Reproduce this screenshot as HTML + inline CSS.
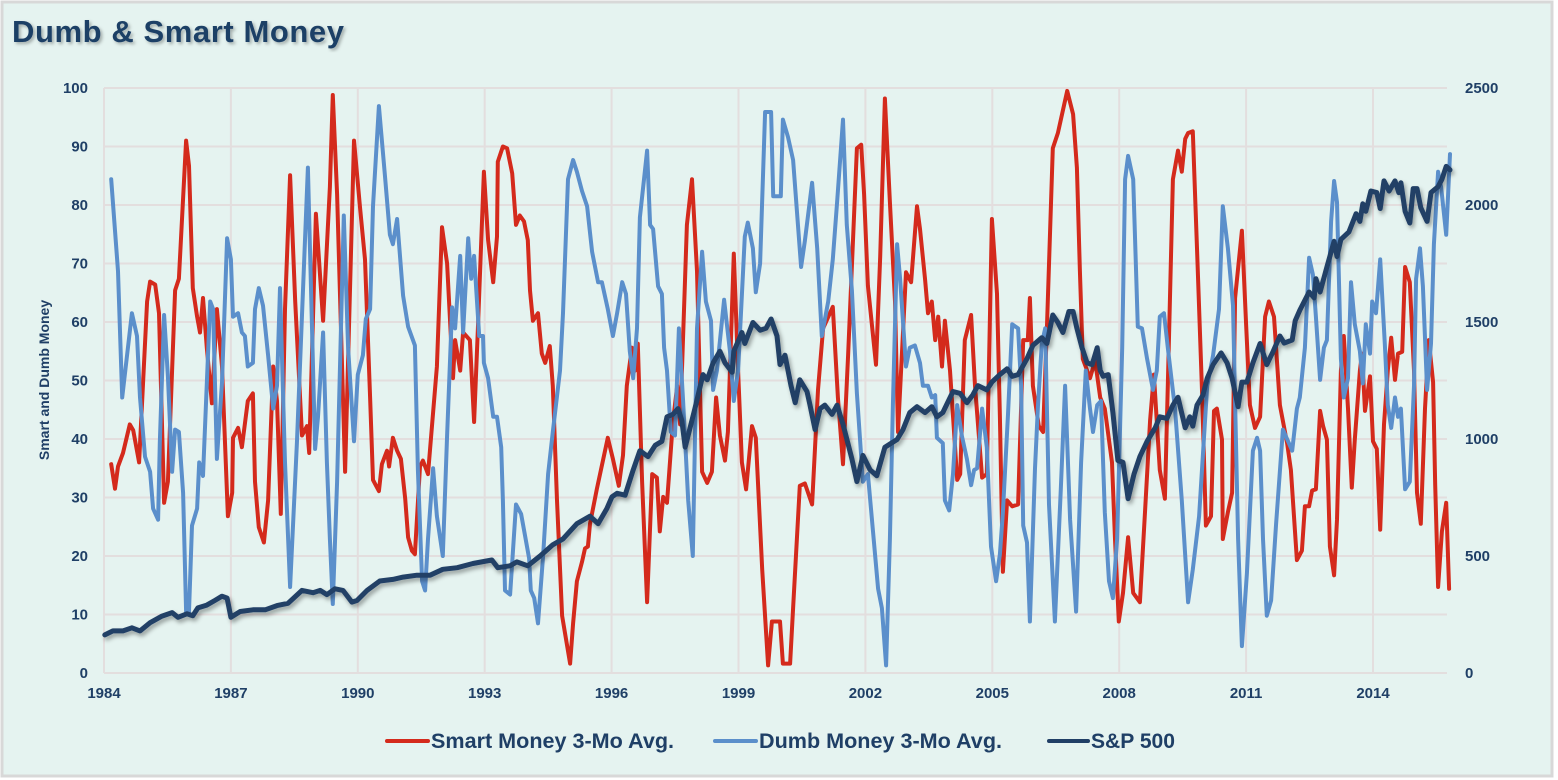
<!DOCTYPE html>
<html><head><meta charset="utf-8">
<style>
html,body{margin:0;padding:0;background:#fff;}
svg{display:block;}
text{font-family:"Liberation Sans",sans-serif;}
</style></head>
<body>
<svg id="chart" width="1558" height="780" viewBox="0 0 1558 780" xmlns="http://www.w3.org/2000/svg">
<defs>
<filter id="shadow" x="-5%" y="-5%" width="110%" height="120%">
<feDropShadow dx="2" dy="3" stdDeviation="2" flood-color="#000" flood-opacity="0.35"/>
</filter>
<filter id="tshadow"><feDropShadow dx="2" dy="2" stdDeviation="1.5" flood-color="#000" flood-opacity="0.3"/></filter>
</defs>
<rect x="2" y="2" width="1550" height="774" fill="#e5f3f0" stroke="#d8d8d8" stroke-width="3"/>
<text x="12" y="42" font-size="31" font-weight="bold" fill="#1f3f66" filter="url(#tshadow)" textLength="332">Dumb &amp; Smart Money</text>
<g id="grid"></g>
<g id="axes"></g>
<g id="series"></g>
<text transform="translate(49,380) rotate(-90)" text-anchor="middle" font-size="14" font-weight="bold" fill="#1f3f66">Smart and Dumb Money</text>
<g>
<g>
<line x1="387" y1="741" x2="428" y2="741" stroke="#d42a1c" stroke-width="4" stroke-linecap="round"/>
<text x="431" y="748" font-size="21" font-weight="bold" fill="#1f3f66" textLength="243" lengthAdjust="spacingAndGlyphs">Smart Money 3-Mo Avg.</text></g>
<g>
<line x1="715" y1="741" x2="756" y2="741" stroke="#5b8fcb" stroke-width="4" stroke-linecap="round"/>
<text x="759" y="748" font-size="21" font-weight="bold" fill="#1f3f66" textLength="243" lengthAdjust="spacingAndGlyphs">Dumb Money 3-Mo Avg.</text></g>
<g>
<line x1="1049" y1="741" x2="1088" y2="741" stroke="#203f66" stroke-width="4" stroke-linecap="round"/>
<text x="1091" y="748" font-size="21" font-weight="bold" fill="#1f3f66" textLength="84" lengthAdjust="spacingAndGlyphs">S&amp;P 500</text></g>
</g>
</svg>
<script>
// years since Jan 1984
const smartT=[0.17,0.26,0.33,0.45,0.61,0.69,0.83,1.02,1.09,1.21,1.30,1.42,1.51,1.68,1.77,1.94,2.01,2.10,2.20,2.27,2.34,2.43,2.55,2.67,2.79,2.93,3.03,3.05,3.17,3.26,3.40,3.52,3.57,3.66,3.78,3.88,4.00,4.09,4.18,4.28,4.40,4.52,4.68,4.80,4.85,5.01,5.18,5.34,5.41,5.51,5.70,5.91,6.05,6.17,6.29,6.36,6.50,6.57,6.69,6.74,6.83,6.93,7.02,7.12,7.19,7.28,7.35,7.47,7.54,7.66,7.87,7.99,8.11,8.25,8.30,8.42,8.49,8.65,8.75,8.84,8.98,9.08,9.20,9.29,9.31,9.43,9.53,9.65,9.74,9.83,9.93,10.02,10.07,10.14,10.26,10.35,10.43,10.54,10.61,10.71,10.83,11.02,11.09,11.18,11.30,11.37,11.44,11.49,11.65,11.91,12.03,12.17,12.27,12.36,12.48,12.55,12.62,12.72,12.84,12.96,13.07,13.14,13.22,13.31,13.45,13.55,13.62,13.78,13.90,14.02,14.14,14.26,14.37,14.47,14.56,14.68,14.75,14.89,14.99,15.08,15.18,15.32,15.41,15.56,15.70,15.79,15.98,16.05,16.22,16.29,16.45,16.57,16.74,16.88,17.00,17.23,17.35,17.47,17.59,17.80,17.90,17.97,18.06,18.25,18.35,18.46,18.58,18.70,18.77,18.96,19.08,19.22,19.29,19.41,19.48,19.57,19.65,19.72,19.81,19.88,20.00,20.17,20.24,20.35,20.50,20.59,20.76,20.87,20.99,21.11,21.18,21.25,21.35,21.47,21.61,21.73,21.84,21.89,21.96,22.10,22.20,22.29,22.43,22.55,22.77,22.91,23.00,23.07,23.14,23.31,23.43,23.55,23.66,23.83,23.90,23.99,24.09,24.21,24.33,24.49,24.61,24.73,24.82,24.96,25.08,25.15,25.27,25.39,25.48,25.56,25.63,25.74,25.84,25.96,26.05,26.17,26.24,26.31,26.43,26.45,26.57,26.67,26.74,26.90,27.00,27.09,27.21,27.33,27.45,27.54,27.66,27.80,27.97,28.06,28.20,28.32,28.39,28.49,28.56,28.65,28.75,28.82,28.91,28.98,29.08,29.15,29.24,29.31,29.41,29.50,29.57,29.69,29.74,29.81,29.93,30.00,30.09,30.17,30.26,30.35,30.43,30.52,30.59,30.69,30.76,30.87,30.97,31.04,31.13,31.23,31.32,31.42,31.47,31.54,31.63,31.73,31.80];
const smartV=[35.7,31.5,35.3,37.6,42.5,41.5,36,63.5,66.9,66.4,61.5,29.1,32.7,65.4,67.4,91,86.7,65.8,60.9,58.2,64.1,55.6,46.1,62.2,52.4,26.8,30.8,40.2,41.9,38.6,46.5,47.8,32.7,24.9,22.3,29.5,52.4,46.5,27.2,62.2,85.1,63.5,40.6,42.2,37.6,78.5,60.2,83.1,98.8,81.8,34.4,91,79.8,70.7,47.1,33,31.1,35.7,38,35.3,40.2,38,36.6,29.8,23.2,20.9,20.3,35.3,36.3,34,52.4,76.2,70,50.4,56.9,51.7,58.2,56.9,42.9,58.9,85.7,74,66.8,74.6,87.4,90,89.7,85.4,76.6,78.2,77.2,74,65.4,60.2,61.5,54.6,53,55.9,49.1,29.5,9.8,1.6,8.5,15.7,19,21.3,21.6,25.5,31.4,40.2,36.6,32,37.2,49.1,55.6,51.7,56.3,32.7,12.1,34,33.4,24.2,30.1,29.1,42.9,49.1,42.5,76.6,84.4,68.7,34.4,32.5,34.4,47.1,40.6,36.3,41.2,71.7,51.7,36,31.4,42.2,40.2,17.7,1.3,8.8,8.8,1.6,1.6,11.1,32,32.4,28.8,48.4,58.9,62.6,47.1,35.7,54.3,89.7,90.3,81.8,66.2,52.7,71.2,98.2,80.5,63.5,41.2,68.5,66.8,79.8,75.9,67.4,61.5,63.5,56.9,60.9,52.4,60.2,51.7,33,34,56.9,61.2,49.1,33.4,34,77.6,64.8,43.8,17.3,29.5,28.5,28.8,56.9,56.9,64.1,49.1,42.2,41.2,58.9,89.7,92.3,99.5,95.5,86.4,68.7,53.7,50.4,53.4,47.1,45.2,36,22.9,8.8,13.7,23.2,13.7,12.1,27.5,43.2,51,34.7,29.8,49.1,84.4,89.3,85.7,91.3,92.3,92.6,72.6,47.8,25.2,26.8,44.8,45.2,39.9,22.9,27.5,30.8,64.1,75.6,59.6,45.8,41.9,43.8,60.9,63.5,60.9,45.8,39.3,34.7,19.3,20.9,28.5,28.5,31.2,31.4,44.8,42.2,39.9,21.6,16.7,26.2,51.7,57.6,45.2,31.7,39.9,51.7,54.6,44.8,50.7,39.6,38.3,24.5,42.5,51.7,57.3,50.1,54.6,54.9,69.4,66.8,51.7,30.8,25.5,45.2,56.9,49.7,32.1,14.7,24.2,29.1,14.4];
const dumbT=[0.17,0.33,0.43,0.66,0.78,0.85,0.97,1.09,1.16,1.28,1.32,1.42,1.51,1.61,1.68,1.77,1.87,1.94,2.01,2.08,2.20,2.25,2.34,2.51,2.58,2.67,2.79,2.91,3.00,3.05,3.17,3.26,3.33,3.40,3.52,3.57,3.66,3.76,3.88,4.00,4.09,4.16,4.28,4.40,4.56,4.68,4.82,4.99,5.06,5.18,5.27,5.34,5.41,5.51,5.67,5.77,5.91,6.00,6.12,6.19,6.29,6.36,6.50,6.64,6.76,6.83,6.93,7.07,7.19,7.35,7.42,7.52,7.59,7.66,7.78,7.87,8.01,8.11,8.23,8.30,8.42,8.49,8.61,8.68,8.75,8.87,8.96,8.98,9.08,9.20,9.29,9.39,9.43,9.48,9.60,9.74,9.86,9.95,10.05,10.09,10.17,10.26,10.38,10.50,10.61,10.78,10.85,10.97,11.09,11.18,11.30,11.42,11.54,11.68,11.77,11.91,12.03,12.13,12.25,12.34,12.43,12.51,12.60,12.67,12.84,12.91,12.98,13.10,13.19,13.24,13.31,13.40,13.50,13.59,13.69,13.81,13.92,14.02,14.14,14.23,14.35,14.40,14.49,14.66,14.80,14.89,14.99,15.15,15.22,15.34,15.41,15.51,15.63,15.77,15.82,16.00,16.05,16.17,16.29,16.48,16.57,16.74,16.86,16.97,17.12,17.23,17.33,17.47,17.56,17.68,17.80,17.94,18.06,18.18,18.30,18.39,18.49,18.58,18.65,18.75,18.82,18.96,19.05,19.17,19.29,19.36,19.48,19.57,19.65,19.69,19.83,19.88,19.98,20.07,20.17,20.28,20.40,20.50,20.57,20.64,20.76,20.87,20.97,21.09,21.18,21.25,21.37,21.47,21.61,21.68,21.73,21.82,21.89,22.01,22.08,22.17,22.25,22.34,22.48,22.62,22.72,22.84,22.98,23.10,23.21,23.31,23.38,23.48,23.57,23.66,23.76,23.85,23.95,24.07,24.14,24.21,24.33,24.44,24.54,24.66,24.80,24.89,24.96,25.06,25.15,25.32,25.48,25.63,25.74,25.89,26.08,26.22,26.36,26.45,26.57,26.69,26.81,26.90,27.02,27.16,27.26,27.33,27.40,27.49,27.59,27.71,27.87,28.09,28.20,28.27,28.39,28.49,28.58,28.65,28.75,28.84,28.91,29.01,29.08,29.15,29.24,29.31,29.41,29.48,29.57,29.69,29.76,29.83,29.93,29.98,30.07,30.17,30.28,30.35,30.43,30.52,30.59,30.66,30.76,30.87,30.97,31.02,31.11,31.18,31.28,31.37,31.44,31.54,31.61,31.73,31.82];
const dumbV=[84.4,68.7,47.1,61.5,57.6,47.1,37,34.4,28.1,26.2,39.3,61.2,50.7,34.4,41.6,41.2,30.8,10.5,10.5,25.2,28.1,36,33.7,63.5,62.2,36.6,49.7,74.3,70.7,60.9,61.5,58.2,57.6,52.4,53,62.2,65.8,62.8,54.3,45.2,49.1,65.8,36,14.7,39.3,61.2,86.4,38.3,43.8,58.2,36,22.9,11.8,32.7,78.2,55.6,39.6,51,54.3,60.5,62.2,79.8,96.9,85.1,74.9,73.3,77.6,64.5,59.2,56,34.7,15.7,14.1,22.9,35,26.8,20,40.6,62.5,58.9,71.3,58.2,74.3,67.4,71.3,57.6,57.6,53,50.4,43.8,43.8,38.6,29.5,14.1,13.4,28.8,27.2,23.6,19.6,14.1,12.8,8.5,20,34,41.2,51.7,61.5,84.4,87.7,85.7,82.4,79.8,72,66.8,66.8,62.2,57.6,61.5,66.8,64.8,55,50.4,58.9,77.9,89.3,76.6,75.9,66.1,64.8,55.6,51.7,41.2,40.6,58.9,46.5,29.5,20,58.9,72,63.5,60.2,48.4,51.7,63.8,54.9,46.5,51.7,74.6,77,72.6,65.1,70,95.9,95.9,81.5,81.5,94.6,91.6,87.7,69.4,73.9,83.8,72.6,57.6,63.5,70.7,80.5,94.6,76.6,65.4,47.8,32.7,34,24.2,14.4,11.1,1.3,22.9,45.8,73.3,67.4,52.4,55.6,56,53,49.1,49.1,47.1,47.5,40.2,39.3,29.5,27.8,34,45.8,40.6,36.6,32.1,34.7,35,45.2,38.6,21.6,15.7,20.3,27.5,44.2,59.6,58.9,49.1,25.2,22.3,8.8,35,45.8,56.3,58.9,28.8,8.8,31.4,49.1,26.2,10.5,36,51.7,45.2,41.2,45.8,46.5,27.5,15.7,12.8,22.9,55.6,84.4,88.4,84.4,59.2,58.9,53.7,48.4,51.7,60.9,61.5,55.6,45.2,29.5,12.1,17.7,26.8,49.1,54.3,62.2,79.8,72.6,62.8,22.9,4.6,17,38,40.2,38,22.9,9.8,12.4,25.5,41.6,38,45.2,47.1,55.6,71,68.1,60.9,50.1,55.6,56.9,77.2,84.1,80.5,53.7,47.1,50.4,66.8,59.6,55,49.5,59.6,54.6,63.5,61.5,70.7,56.3,45.8,41.9,47.1,43.8,45.2,31.4,32.7,49.1,67.4,72.6,66.1,48.4,56.3,73.3,85.7,83.1,74.9,88.7];
const spxT=[0.02,0.21,0.45,0.66,0.85,1.09,1.37,1.61,1.75,1.96,2.10,2.22,2.43,2.62,2.79,2.91,3.00,3.22,3.52,3.81,4.09,4.35,4.68,4.94,5.11,5.27,5.46,5.65,5.86,5.98,6.22,6.52,6.83,7.07,7.40,7.71,8.01,8.35,8.72,9.17,9.31,9.60,9.76,10.02,10.31,10.61,10.85,11.18,11.49,11.68,11.89,12.01,12.13,12.32,12.51,12.67,12.86,13.03,13.19,13.31,13.45,13.57,13.66,13.74,13.97,14.16,14.26,14.40,14.56,14.68,14.85,14.89,15.08,15.15,15.34,15.51,15.65,15.77,15.91,15.98,16.10,16.24,16.34,16.45,16.62,16.69,16.81,16.93,17.04,17.21,17.33,17.47,17.68,17.80,17.94,18.11,18.27,18.46,18.75,18.89,19.05,19.22,19.41,19.57,19.69,19.83,20.07,20.24,20.40,20.54,20.66,20.87,20.99,21.18,21.35,21.47,21.61,21.82,21.96,22.17,22.29,22.43,22.55,22.67,22.81,22.91,23.00,23.12,23.24,23.36,23.48,23.55,23.62,23.74,23.85,23.97,24.09,24.21,24.35,24.49,24.66,24.85,24.96,25.13,25.27,25.39,25.56,25.67,25.74,25.84,25.98,26.08,26.22,26.41,26.55,26.67,26.81,26.90,27.02,27.16,27.33,27.49,27.64,27.80,27.90,28.09,28.16,28.27,28.49,28.61,28.65,28.75,28.91,29.08,29.15,29.24,29.43,29.60,29.69,29.76,29.83,29.95,30.09,30.17,30.26,30.38,30.52,30.61,30.66,30.76,30.87,30.95,31.04,31.13,31.28,31.37,31.54,31.63,31.73,31.82];
const spxV=[163,180,180,193,180,215,243,258,238,253,245,278,290,310,328,320,238,263,270,270,288,298,353,343,353,335,360,353,303,310,353,393,400,410,418,418,443,450,468,483,450,458,475,458,500,548,573,638,670,638,703,753,768,760,868,950,925,973,990,1095,1105,1130,1080,965,1130,1275,1253,1325,1375,1325,1285,1375,1455,1408,1498,1465,1473,1513,1440,1318,1358,1228,1155,1253,1203,1145,1040,1130,1145,1105,1145,1063,915,818,930,868,843,965,998,1040,1113,1138,1113,1138,1095,1113,1203,1195,1155,1188,1228,1210,1243,1275,1300,1268,1275,1343,1400,1433,1408,1530,1498,1455,1545,1545,1473,1390,1325,1318,1390,1293,1268,1275,1113,908,900,745,850,925,990,1048,1095,1088,1145,1178,1048,1095,1055,1145,1188,1260,1318,1368,1325,1260,1138,1243,1243,1325,1408,1318,1375,1440,1410,1423,1505,1550,1628,1603,1685,1628,1735,1845,1780,1853,1885,1963,1930,2005,1973,2060,2053,1985,2103,2060,2103,2053,2095,1973,1923,2070,2070,1988,1930,2053,2078,2110,2165,2150];
const xTickYears=[1984,1987,1990,1993,1996,1999,2002,2005,2008,2011,2014];
const leftTicks=[0,10,20,30,40,50,60,70,80,90,100];
const rightTicks=[0,500,1000,1500,2000,2500];

const NS='http://www.w3.org/2000/svg';
const X0=104,X1=1447,YT=88,YB=673,PXY=42.3;
const xs=t=>X0+t*PXY;
const yl=v=>YB-(v/100)*(YB-YT);
const yr=v=>YB-(v/2500)*(YB-YT);
function mk(tag,attrs,parent){const e=document.createElementNS(NS,tag);for(const k in attrs)e.setAttribute(k,attrs[k]);parent.appendChild(e);return e;}
const grid=document.getElementById('grid'),axes=document.getElementById('axes'),ser=document.getElementById('series');
leftTicks.forEach(v=>{
  const l=mk('line',{x1:X0,x2:X1,y1:yl(v),y2:yl(v),stroke:'#e3dede','stroke-width':2},grid);
  
  
  const t=mk('text',{x:88,y:yl(v)+5,'text-anchor':'end','font-size':15,'font-weight':'bold',fill:'#1f3f66'},axes);
  t.textContent=v;
  
  
});
rightTicks.forEach(v=>{
  const t=mk('text',{x:1465,y:yr(v)+5,'font-size':15,'font-weight':'bold',fill:'#1f3f66'},axes);
  t.textContent=v;
  
  
});
xTickYears.forEach(y=>{
  const x=xs(y-1984);
  const l=mk('line',{x1:x,x2:x,y1:YT,y2:YB,stroke:'#e3dede','stroke-width':2},grid);
  
  
  const t=mk('text',{x:x,y:698,'text-anchor':'middle','font-size':15,'font-weight':'bold',fill:'#1f3f66'},axes);
  t.textContent=y;
  
  
});
function path(T,V,yf){return T.map((t,i)=>(i?'L':'M')+xs(t).toFixed(1)+','+yf(V[i]).toFixed(1)).join(' ');}
const pSmart=mk('path',{d:path(smartT,smartV,yl),fill:'none',stroke:'#d42a1c','stroke-width':4,'stroke-linejoin':'round','stroke-linecap':'round'},ser);


const pDumb=mk('path',{d:path(dumbT,dumbV,yl),fill:'none',stroke:'#5b8fcb','stroke-width':4,'stroke-linejoin':'round','stroke-linecap':'round'},ser);


const pSpx=mk('path',{d:path(spxT,spxV,yr),fill:'none',stroke:'#203f66','stroke-width':5,'stroke-linejoin':'round','stroke-linecap':'round',filter:'url(#shadow)'},ser);


</script>
</body></html>
